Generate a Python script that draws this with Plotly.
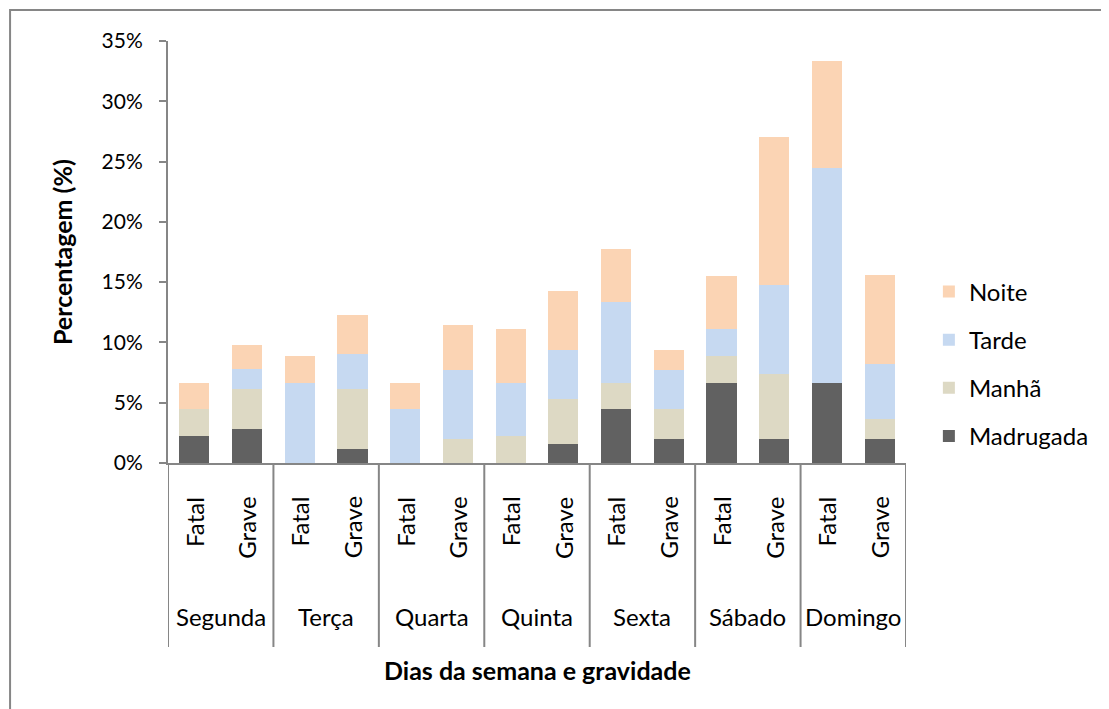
import plotly.graph_objects as go

days = ["Segunda", "Terça", "Quarta", "Quinta", "Sexta", "Sábado", "Domingo"]
severity = ["Fatal", "Grave"]
madrugada = [2.22, 2.8, 0, 1.2, 0, 0, 0, 1.6, 4.44, 2.0, 6.67, 2.0, 6.67, 2.0]
manha = [2.22, 3.3, 0, 4.9, 0, 2.0, 2.22, 3.7, 2.22, 2.45, 2.22, 5.35, 0, 1.67]
tarde = [0, 1.7, 6.67, 2.9, 4.44, 5.75, 4.44, 4.1, 6.67, 3.3, 2.22, 7.4, 17.78, 4.5]
noite = [2.22, 2.0, 2.22, 3.3, 2.22, 3.67, 4.44, 4.9, 4.44, 1.6, 4.44, 12.3, 8.89, 7.4]
y_ticks = [0, 5, 10, 15, 20, 25, 30, 35]

FONT = "Lato"
series = [
    ("Madrugada", madrugada, "#616161"),
    ("Manhã", manha, "#DDD9C4"),
    ("Tarde", tarde, "#C6D9F1"),
    ("Noite", noite, "#FBD4B4"),
]
xpos = list(range(len(days) * len(severity)))

fig = go.Figure()
for i, (name, vals, col) in enumerate(series):
    fig.add_trace(go.Bar(x=xpos, y=vals, name=name, marker_color=col,
                         marker_line_width=0, legendgroup=name,
                         legendrank=len(series) - i))

fig.update_layout(
    barmode="stack", bargap=0.43,
    width=1101, height=701,
    margin=dict(l=160, r=203, t=33, b=246),
    paper_bgcolor="white", plot_bgcolor="white",
    font=dict(family=FONT, size=21, color="black"),
    showlegend=True,
    legend=dict(traceorder="grouped", tracegroupgap=14,
                x=1.031, xanchor="left", y=0.235, yanchor="middle",
                font=dict(family=FONT, size=24)),
)
fig.update_xaxes(range=[-0.5, len(xpos) - 0.5], showticklabels=False, ticks="",
                 showline=True, linecolor="#868686", linewidth=2, showgrid=False,
                 zeroline=False)
fig.update_yaxes(range=[0, 35], tickvals=y_ticks, ticktext=[f"{v}%" for v in y_ticks],
                 ticks="outside", ticklen=7, tickcolor="#868686", tickwidth=2,
                 showline=True, linecolor="#868686", linewidth=2, showgrid=False,
                 zeroline=False, ticklabelstandoff=12, tickfont=dict(size=21))

# inner labels
for i in xpos:
    fig.add_annotation(x=i, xref="x", y=-0.075, yref="paper", text=severity[i % 2],
                       textangle=-90, showarrow=False, yanchor="top", xanchor="center",
                       font=dict(family=FONT, size=24))
# day labels
for k, d in enumerate(days):
    fig.add_annotation(x=2 * k + 0.5, xref="x", y=-0.3626, yref="paper", text=d,
                       showarrow=False, yanchor="middle", xanchor="center",
                       font=dict(family=FONT, size=24))
# dividers
for k in range(len(days) + 1):
    fig.add_shape(type="line", x0=2 * k - 0.5, x1=2 * k - 0.5, xref="x",
                  y0=0, y1=-0.436, yref="paper", line=dict(color="#868686", width=2))

fig.add_annotation(x=-0.1436, xref="paper", y=0.5, yref="paper", text="<b>Percentagem (%)</b>",
                   textangle=-90, showarrow=False, xanchor="center", yanchor="middle",
                   font=dict(family=FONT, size=25))
fig.add_annotation(x=0.5, xref="paper", y=-0.4905, yref="paper",
                   text="<b>Dias da semana e gravidade</b>", showarrow=False,
                   xanchor="center", yanchor="middle",
                   font=dict(family=FONT, size=25))
# outer chart frame
fig.add_shape(type="rect", xref="paper", yref="paper", x0=-0.214, x1=1.35, y0=-0.75, y1=1.0735,
              line=dict(color="#868686", width=2), layer="below")

fig.write_html("out.html")
